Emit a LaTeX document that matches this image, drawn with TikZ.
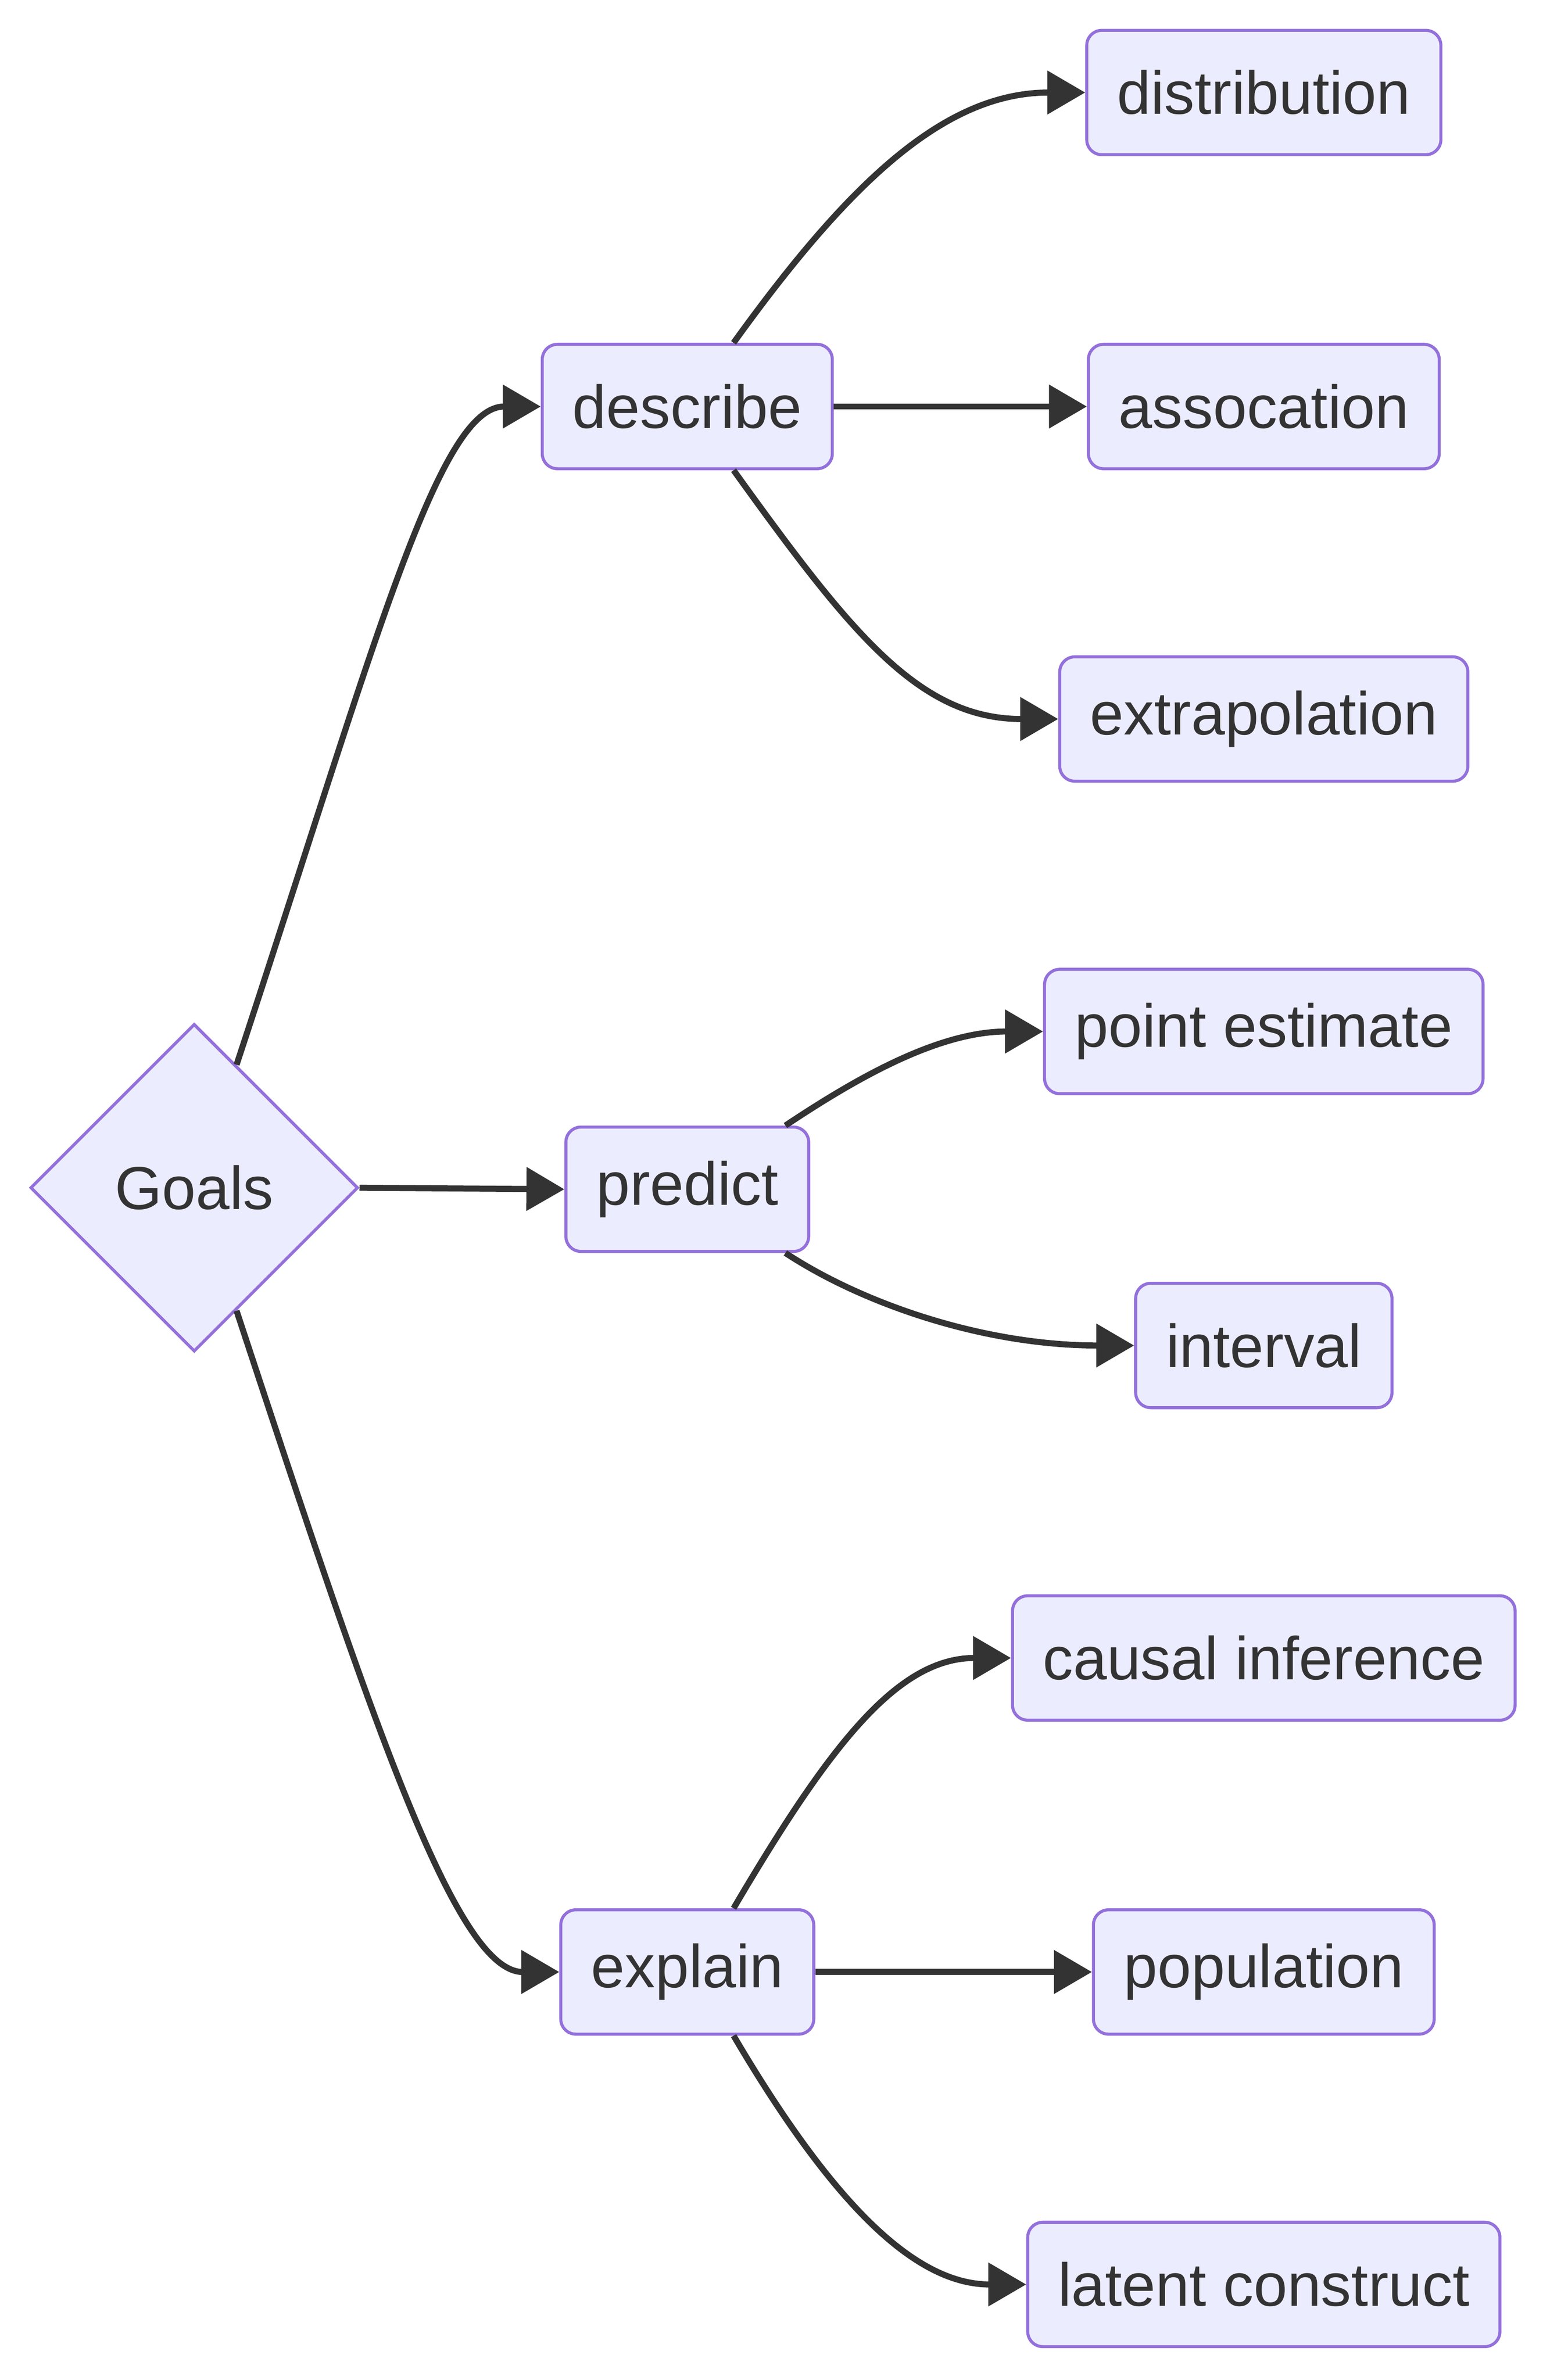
\documentclass[tikz,border=0pt]{standalone}
\usepackage{fontspec}
\setmainfont{Liberation Sans}
\usepackage{tikz}
\usetikzlibrary{arrows.meta,calc,positioning,shapes.geometric}
\definecolor{nodefill}{HTML}{ECECFF}
\definecolor{nodeline}{HTML}{9370DB}
\definecolor{linkcol}{HTML}{333333}
\begin{document}
\begin{tikzpicture}[x=1pt,y=-1pt,
  unit/.style={draw=nodeline,fill=nodefill,line width=2pt,rounded corners=10pt,
    minimum height=82pt,inner xsep=20pt,text=linkcol,font=\fontsize{40}{48}\selectfont},
  goal/.style={diamond,aspect=1,draw=nodeline,fill=nodefill,line width=2pt,
    minimum width=216pt,minimum height=216pt,inner sep=0pt,text=linkcol,font=\fontsize{40}{48}\selectfont},
  link/.style={draw=linkcol,line width=4pt,-{Triangle[length=25pt,width=28pt]}}]
\useasboundingbox (0,0) rectangle (1017,1569);
\node[goal] (G) at (128,783) {Goals};
\path (G)
    +(325,-515) node[unit] (D) {describe}
    +(325,1) node[unit] (P) {predict}
    +(325,517) node[unit] (E) {explain}
    ;
\path (D)
    +(380,-207) node[unit] (Dist) {distribution}
    +(380,0) node[unit] (Asc) {assocation}
    +(380,206) node[unit] (Ext) {extrapolation}
    ;
\path (P)
    +(380,-104) node[unit] (Pt) {point estimate}
    +(380,103) node[unit] (Int) {interval}
    ;
\path (E)
    +(380,-207) node[unit] (Cau) {causal inference}
    +(380,0) node[unit] (Pop) {population}
    +(380,206) node[unit] (Lat) {latent construct}
    ;
\draw[link] (G.71) .. controls +(90,-273) and +(-68,0) .. (D.west);
\draw[link] (G.east) -- (P.west);
\draw[link] (G.-71) .. controls +(90,273) and +(-68,0) .. (E.west);
\draw[link] (D.54) .. controls +(77,-107) and +(-92,0) .. (Dist.west);
\draw[link] (D.east) -- (Asc.west);
\draw[link] (D.-54) .. controls +(77,107) and +(-92,0) .. (Ext.west);
\draw[link] (P.33.5) .. controls +(45,-30) and +(-70,0) .. (Pt.west);
\draw[link] (P.-33.5) .. controls +(50,33) and +(-100,0) .. (Int.west);
\draw[link] (E.54) .. controls +(63,-107) and +(-75,0) .. (Cau.west);
\draw[link] (E.east) -- (Pop.west);
\draw[link] (E.-54) .. controls +(63,107) and +(-75,0) .. (Lat.west);
\end{tikzpicture}
\end{document}
